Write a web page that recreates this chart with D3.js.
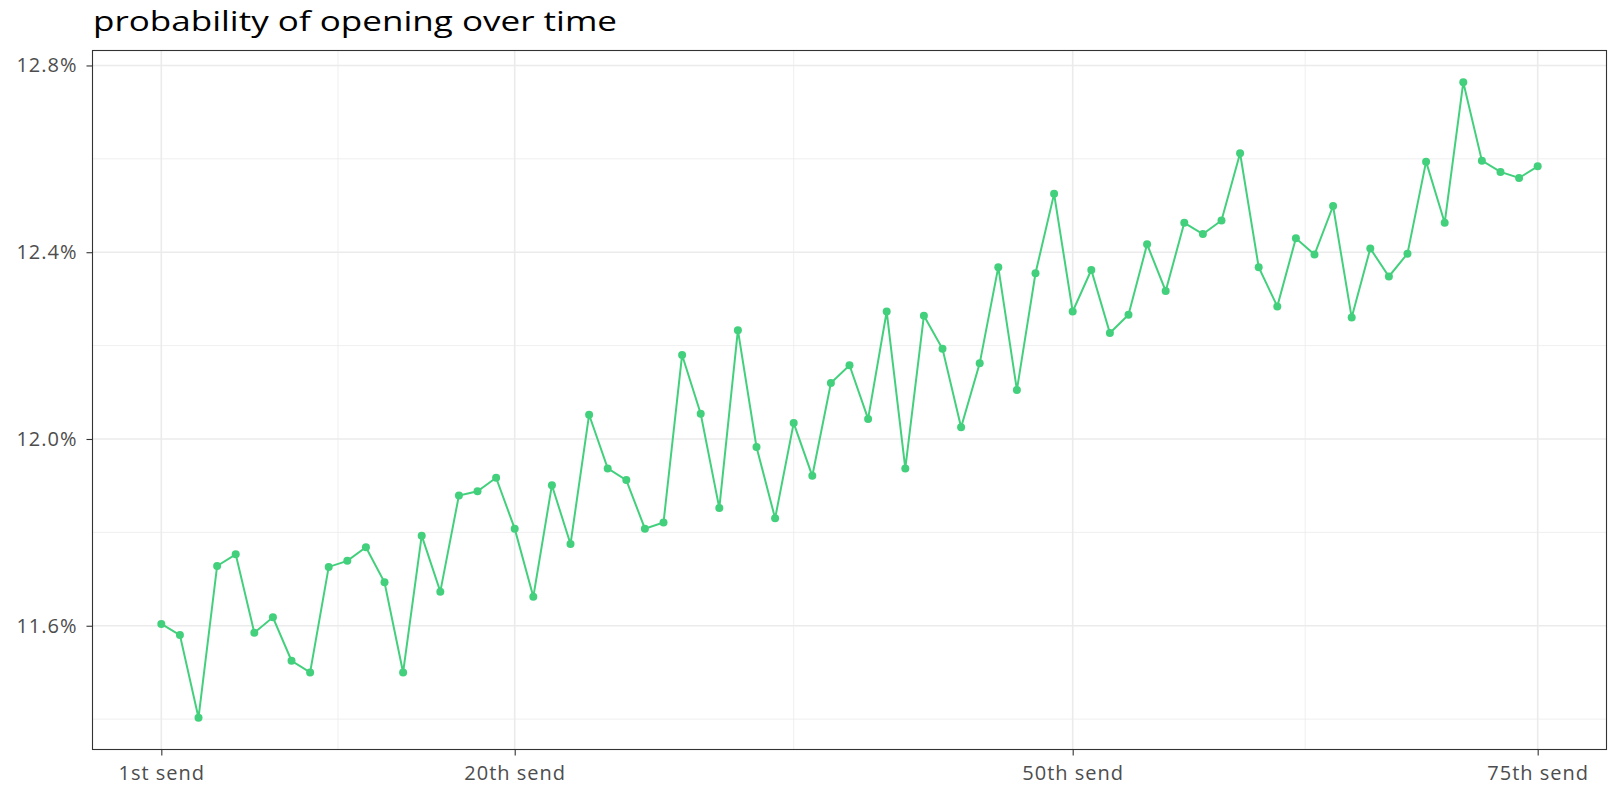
<!DOCTYPE html>
<html>
<head>
<meta charset="utf-8">
<script src="https://cdn.jsdelivr.net/npm/d3@7"></script>
<style>
  html, body { margin: 0; padding: 0; background: #fff; }
  svg { display: block; }
</style>
</head>
<body>
<script>
const title = "probability of opening over time";
const sends = d3.range(1, 76);
const openRate = [
  11.604, 11.580, 11.403, 11.728, 11.753, 11.585, 11.618, 11.525, 11.500, 11.726,
  11.739, 11.768, 11.693, 11.500, 11.793, 11.673, 11.879, 11.888, 11.917, 11.808,
  11.662, 11.901, 11.775, 12.052, 11.937, 11.912, 11.808, 11.821, 12.180, 12.054,
  11.852, 12.233, 11.983, 11.830, 12.034, 11.921, 12.120, 12.158, 12.043, 12.273,
  11.937, 12.264, 12.193, 12.025, 12.162, 12.368, 12.105, 12.355, 12.525, 12.273,
  12.362, 12.227, 12.266, 12.417, 12.317, 12.463, 12.439, 12.468, 12.612, 12.368,
  12.284, 12.430, 12.395, 12.499, 12.260, 12.408, 12.348, 12.397, 12.594, 12.463,
  12.764, 12.596, 12.572, 12.559, 12.584
];
const xTicks = [1, 20, 50, 75];
const xTickLabels = ["1st send", "20th send", "50th send", "75th send"];
const xMinor = [10.5, 35, 62.5];
const yTicks = [11.6, 12.0, 12.4, 12.8];
const yMinor = [11.4, 11.8, 12.2, 12.6];

const W = 1618, H = 787;
const panel = { left: 92.5, right: 1606.5, top: 50.5, bottom: 749.5 };
const FONT = "'Open Sans', Lato, sans-serif";
const GREEN = "#43d07d";

const svg = d3.select("body").append("svg").attr("width", W).attr("height", H);

// ggplot-like 5% expansion
const xExt = d3.extent(sends), xPad = (xExt[1] - xExt[0]) * 0.05;
const yExt = d3.extent(openRate), yPad = (yExt[1] - yExt[0]) * 0.05;
const x = d3.scaleLinear().domain([xExt[0] - xPad, xExt[1] + xPad]).range([panel.left, panel.right]);
const y = d3.scaleLinear().domain([yExt[0] - yPad, yExt[1] + yPad]).range([panel.bottom, panel.top]);

const g = svg.append("g");

// minor gridlines
g.selectAll(".yminor").data(yMinor).join("line")
  .attr("x1", panel.left).attr("x2", panel.right)
  .attr("y1", d => y(d)).attr("y2", d => y(d))
  .attr("stroke", "#ebebeb").attr("stroke-width", 0.8);
g.selectAll(".xminor").data(xMinor).join("line")
  .attr("y1", panel.top).attr("y2", panel.bottom)
  .attr("x1", d => x(d)).attr("x2", d => x(d))
  .attr("stroke", "#ebebeb").attr("stroke-width", 0.8);
// major gridlines
g.selectAll(".ymajor").data(yTicks).join("line")
  .attr("x1", panel.left).attr("x2", panel.right)
  .attr("y1", d => y(d)).attr("y2", d => y(d))
  .attr("stroke", "#ebebeb").attr("stroke-width", 1.6);
g.selectAll(".xmajor").data(xTicks).join("line")
  .attr("y1", panel.top).attr("y2", panel.bottom)
  .attr("x1", d => x(d)).attr("x2", d => x(d))
  .attr("stroke", "#ebebeb").attr("stroke-width", 1.6);

// line and points
const line = d3.line().x((d, i) => x(sends[i])).y(d => y(d));
g.append("path").datum(openRate)
  .attr("d", line).attr("fill", "none")
  .attr("stroke", GREEN).attr("stroke-width", 2);
g.selectAll(".pt").data(openRate).join("circle")
  .attr("cx", (d, i) => x(sends[i])).attr("cy", d => y(d))
  .attr("r", 4).attr("fill", GREEN);

// panel border
svg.append("rect")
  .attr("x", panel.left).attr("y", panel.top)
  .attr("width", panel.right - panel.left).attr("height", panel.bottom - panel.top)
  .attr("fill", "none").attr("stroke", "#333").attr("stroke-width", 1.1);

// axes
const xAxis = d3.axisBottom(x).tickValues(xTicks)
  .tickFormat((d, i) => xTickLabels[i]).tickSize(6).tickPadding(10);
const yAxis = d3.axisLeft(y).tickValues(yTicks)
  .tickFormat(d => d.toFixed(1) + "%").tickSize(6).tickPadding(9);

const gx = svg.append("g").attr("transform", `translate(0,${panel.bottom})`).call(xAxis);
const gy = svg.append("g").attr("transform", `translate(${panel.left},0)`).call(yAxis);
[gx, gy].forEach(a => {
  a.select(".domain").remove();
  a.selectAll(".tick line").attr("stroke", "#333").attr("stroke-width", 1.1);
  a.selectAll(".tick text").attr("fill", "#4d4d4d")
    .style("font-family", FONT).style("font-size", "20px")
    .style("letter-spacing", "1px");
});

// title
svg.append("text")
  .attr("x", 93).attr("y", 30.5)
  .style("font-family", FONT).style("font-size", "28px").style("font-weight", 500)
  .attr("fill", "#000")
  .attr("textLength", 524).attr("lengthAdjust", "spacingAndGlyphs")
  .text(title);
</script>
</body>
</html>
